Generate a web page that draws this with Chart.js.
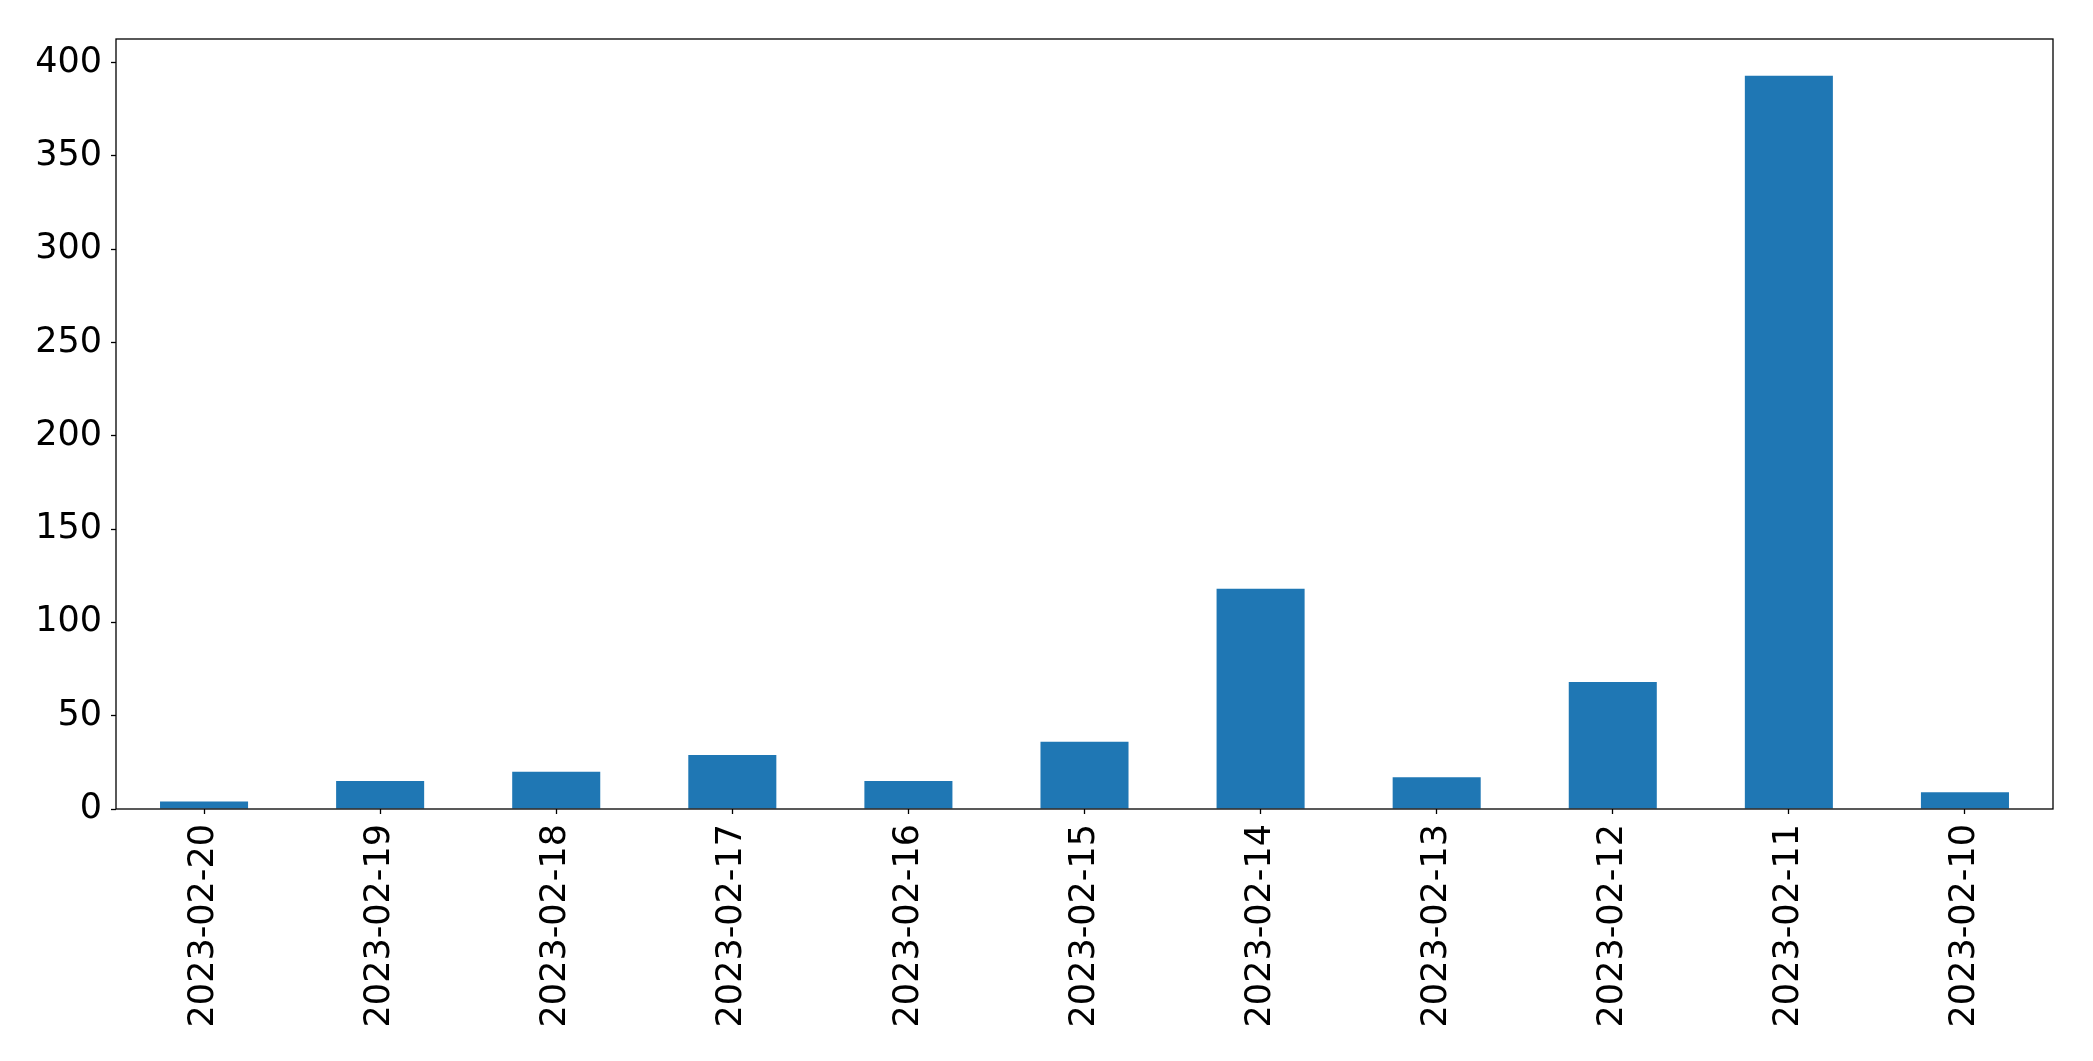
<!DOCTYPE html>
<html>
<head>
<meta charset="utf-8">
<script src="https://cdn.jsdelivr.net/npm/chart.js@4.4.1/dist/chart.umd.min.js"></script>
<style>
  html, body { margin: 0; padding: 0; background: #fff; }
  #wrap { width: 2093px; height: 1061px; position: relative; }
</style>
</head>
<body>
<div id="wrap"><canvas id="chart"></canvas></div>
<script>
// data
const dates = ['2023-02-20', '2023-02-19', '2023-02-18', '2023-02-17', '2023-02-16', '2023-02-15',
               '2023-02-14', '2023-02-13', '2023-02-12', '2023-02-11', '2023-02-10'];
const counts = [4, 15, 20, 29, 15, 36, 118, 17, 68, 393, 9];
const yTicks = [0, 50, 100, 150, 200, 250, 300, 350, 400];
const yMax = 412.65;

const FONT = { family: 'DejaVu Sans', size: 35 };

// box around the plot area, like matplotlib spines
const frame = {
  id: 'frame',
  afterDraw(chart) {
    const a = chart.chartArea, ctx = chart.ctx;
    ctx.save();
    ctx.strokeStyle = '#000';
    ctx.lineWidth = 1.3;
    ctx.strokeRect(a.left, a.top, a.right - a.left, a.bottom - a.top);
    ctx.restore();
  }
};

new Chart(document.getElementById('chart'), {
  type: 'bar',
  data: {
    labels: dates,
    datasets: [{
      data: counts,
      backgroundColor: '#1f77b4',
      borderWidth: 0,
      barPercentage: 0.5,
      categoryPercentage: 1.0
    }]
  },
  options: {
    responsive: true,
    maintainAspectRatio: false,
    animation: false,
    layout: { padding: { top: 39, right: 40, left: 0, bottom: 0 } },
    plugins: {
      legend: { display: false },
      tooltip: { enabled: false }
    },
    scales: {
      x: {
        afterFit: s => { s.height = 252; },
        grid: { display: true, offset: false, drawOnChartArea: false, drawTicks: true, tickLength: 5, tickColor: '#000', tickWidth: 1.3 },
        border: { display: false },
        ticks: { color: '#000', font: FONT, maxRotation: 90, minRotation: 90, padding: 10, autoSkip: false }
      },
      y: {
        min: 0,
        max: yMax,
        afterFit: s => { s.width = 116; },
        afterBuildTicks: s => { s.ticks = yTicks.map(v => ({ value: v })); },
        grid: { display: true, drawOnChartArea: false, drawTicks: true, tickLength: 5, tickColor: '#000', tickWidth: 1.3 },
        border: { display: false },
        ticks: { color: '#000', font: FONT, padding: 9 }
      }
    }
  },
  plugins: [frame]
});
</script>
</body>
</html>
